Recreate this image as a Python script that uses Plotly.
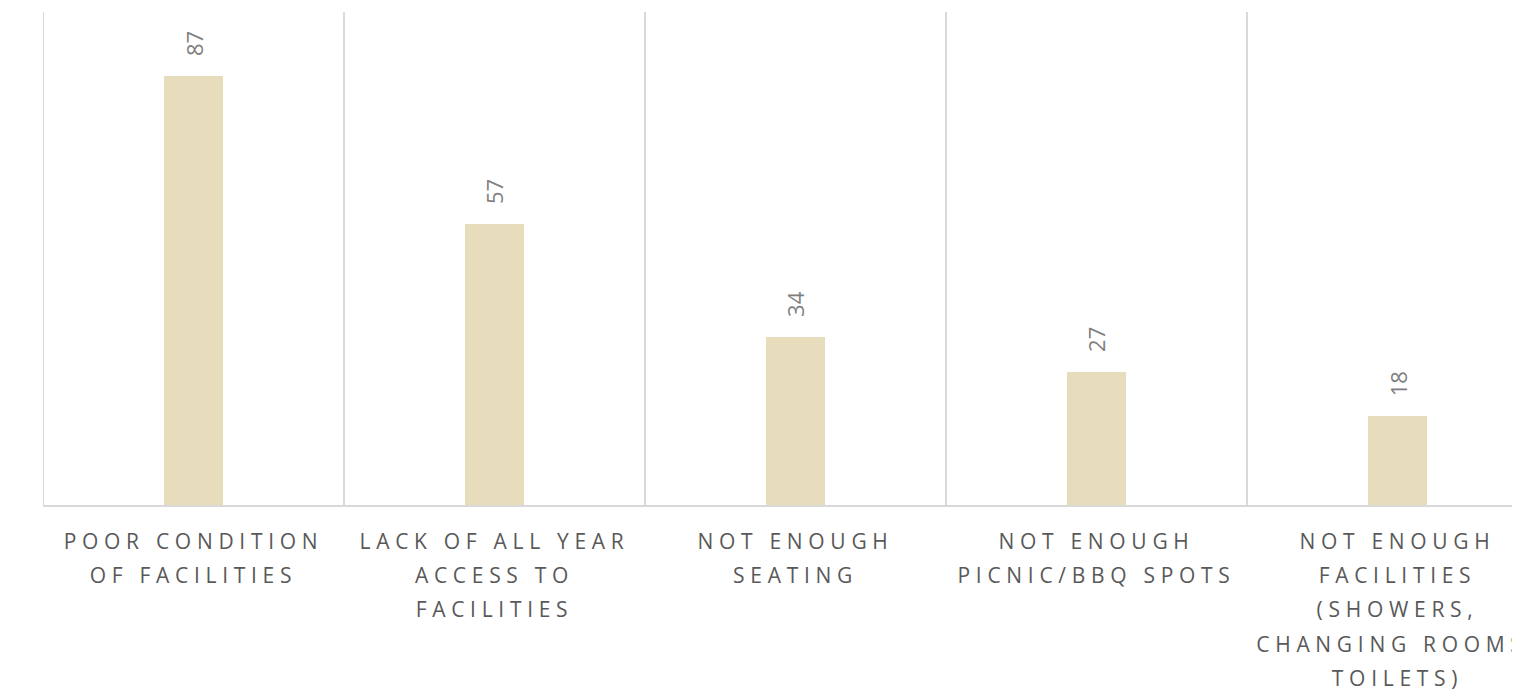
import plotly.graph_objects as go

categories = [
    "POOR CONDITION<br>OF FACILITIES",
    "LACK OF ALL YEAR<br>ACCESS TO<br>FACILITIES",
    "NOT ENOUGH<br>SEATING",
    "NOT ENOUGH<br>PICNIC/BBQ SPOTS",
    "NOT ENOUGH<br>FACILITIES<br>(SHOWERS,<br>CHANGING ROOMS,<br>TOILETS)",
]
values = [87, 57, 34, 27, 18]

BAR = "#e7ddbc"
GRID = "#d9d9d9"
FONT = "Open Sans"

x = list(range(len(categories)))

fig = go.Figure()
fig.add_trace(go.Bar(x=x, y=values, marker=dict(color=BAR, line=dict(width=0)),
                     width=0.193, hoverinfo="skip"))

for xi, v in zip(x, values):
    fig.add_annotation(x=xi, y=v, text=str(v), showarrow=False, textangle=-90,
                       yanchor="bottom", xanchor="center", yshift=18,
                       font=dict(family=FONT, size=22, color="#7f7f7f"))

# category separators
for b in [i - 0.5 for i in range(len(categories) + 1)]:
    fig.add_shape(type="line", xref="x", yref="paper", x0=b, x1=b, y0=0, y1=1,
                  line=dict(color=GRID, width=2), layer="below")

fig.update_layout(
    width=1512, height=690, autosize=False,
    margin=dict(l=35, r=0, t=4, b=193),
    plot_bgcolor="white", paper_bgcolor="white",
    showlegend=False, bargap=0,
    xaxis=dict(range=[-0.5, 4.407], tickvals=x, ticktext=categories,
               showgrid=False, zeroline=False, showline=True, linecolor=GRID,
               linewidth=2, ticks="", ticklabelstandoff=17,
               tickfont=dict(family=FONT, size=21, color="#595959")),
    yaxis=dict(range=[0, 100], showgrid=False, zeroline=False, showticklabels=False,
               showline=False, ticks=""),
)

post = """
var gd = document.getElementById('{plot_id}');
gd.querySelectorAll('.xtick text').forEach(function(t){
  t.style.letterSpacing = '5.7px';
  t.querySelectorAll('tspan.line').forEach(function(s){
    var dy = s.getAttribute('dy');
    if (dy && dy.indexOf('em') > 0) { s.setAttribute('dy', (parseFloat(dy) * 1.25) + 'em'); }
  });
});
"""

fig.write_html("out.html", post_script=post, config={"displayModeBar": False})
